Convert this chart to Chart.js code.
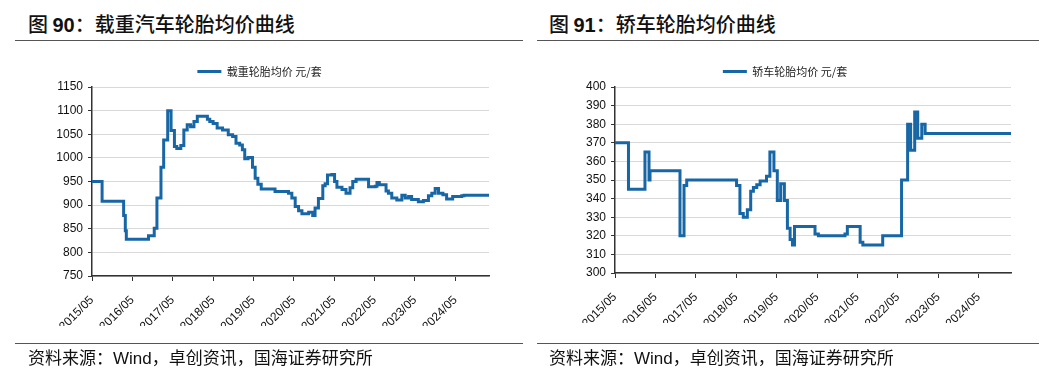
<!DOCTYPE html>
<html>
<head>
<meta charset="utf-8">
<script src="https://cdn.jsdelivr.net/npm/chart.js@4.4.1/dist/chart.umd.min.js"></script>
<style>
  html, body { margin: 0; padding: 0; background: #fff; }
  body { width: 1054px; height: 385px; position: relative; overflow: hidden; font-family: "Liberation Sans", Arial, "Noto Sans CJK SC", sans-serif; }
  .title { position: absolute; top: 10px; font-size: 20px; font-family: "Noto Sans CJK SC", sans-serif; font-weight: 500; color: #111; white-space: nowrap; line-height: 28px; }
  .title b { font-family: "Liberation Sans", Arial, sans-serif; font-weight: bold; }
  .hline { position: absolute; height: 0; border-top: 1.5px solid #555; }
  .source { position: absolute; top: 345px; font-size: 17px; font-family: "Noto Sans CJK SC", sans-serif; color: #111; white-space: nowrap; line-height: 24px; }
  .source span.w { font-family: "Liberation Sans", Arial, sans-serif; }
  canvas { position: absolute; }
</style>
</head>
<body>
<div class="title" style="left:28px;">图 <b>90</b>：载重汽车轮胎均价曲线</div>
<div class="hline" style="left:15px; width:508px; top:40px;"></div>
<div class="title" style="left:549px;">图 <b>91</b>：轿车轮胎均价曲线</div>
<div class="hline" style="left:537px; width:502px; top:40px;"></div>

<canvas id="c1" width="527" height="300" style="left:0px; top:62px;"></canvas>
<canvas id="c2" width="527" height="300" style="left:527px; top:62px;"></canvas>

<div class="hline" style="left:15px; width:508px; top:343px;"></div>
<div class="hline" style="left:537px; width:502px; top:343px;"></div>
<div class="source" style="left:28px;">资料来源：<span class="w">Wind</span>，卓创资讯，国海证券研究所</div>
<div class="source" style="left:549px;">资料来源：<span class="w">Wind</span>，卓创资讯，国海证券研究所</div>

<script>
// ---- data (x = months since 2015/05) ----
const tickLabels = ["2015/05","2016/05","2017/05","2018/05","2019/05","2020/05","2021/05","2022/05","2023/05","2024/05"];

const heavyLabel = "载重轮胎均价 元/套";
const heavyMonths = [0, 3.0, 9.4, 9.9, 10.2, 16.8, 18.5, 19.3, 20.5, 21.3,
  22.5, 23.5, 24.5, 25.2, 26.4, 27.3, 28.3, 29.3, 30.3, 31.3,
  34.3, 35.0, 36.0, 37.2, 38.8, 40.5, 41.8, 42.8, 43.9, 44.7,
  45.4, 46.4, 47.7, 48.5, 49.3, 50.3, 54.4, 58.4, 59.4, 60.4,
  61.4, 62.4, 64.4, 65.6, 66.3, 67.3, 68.6, 69.3, 70.0, 71.3,
  72.1, 72.8, 74.3, 75.5, 76.7, 77.5, 78.5, 82.2, 84.2, 84.7,
  85.4, 87.4, 88.1, 89.1, 90.6, 92.1, 93.1, 94.1, 95.0, 97.0,
  98.5, 100.0, 101.0, 102.0, 103.0, 104.3, 105.4, 107.2, 109.9, 110.6, 118];
const heavyPrices = [950, 908, 878, 846, 828, 835, 851, 915, 980, 1038,
  1100, 1058, 1024, 1020, 1026, 1059, 1070, 1066, 1077, 1088,
  1082, 1077, 1073, 1063, 1059, 1049, 1045, 1031, 1027, 1017,
  998, 1001, 980, 957, 944, 934, 929, 925, 915, 897,
  888, 882, 885, 878, 894, 914, 941, 945, 964, 965,
  950, 938, 933, 925, 937, 950, 955, 939, 940, 948,
  943, 930, 925, 915, 911, 921, 915, 918, 912, 907,
  910, 920, 925, 935, 925, 922, 913, 918, 920, 921, 921];

const carLabel = "轿车轮胎均价 元/套";
const carMonths = [0, 4.0, 8.9, 10.1, 10.4, 19.3, 20.5, 21.3, 36.1, 37.1,
  38.1, 39.3, 40.3, 41.1, 42.1, 43.1, 45.0, 46.0, 47.2, 48.2,
  49.2, 50.3, 51.2, 52.0, 52.7, 53.3, 59.4, 60.4, 68.3, 69.0,
  72.8, 73.6, 79.5, 85.1, 86.9, 87.8, 89.0, 89.9, 91.1, 92.1, 117.6];
const carPrices = [370, 345, 365, 350, 355, 320, 347, 350, 347, 332,
  330, 334, 344, 346, 347.5, 349.5, 352, 365, 355, 339,
  348, 339, 324, 318, 315, 325, 321, 320, 321, 325,
  316.5, 315, 320, 350, 380, 366, 386.5, 372.5, 380, 375, 375];

const blue = '#1766a6';

function makeChart(id, label, months, prices, yMin, yMax, yStep, xMax, padLeft, padRight, padBottom, yWidth) {
  const pts = months.map((m, i) => ({ x: m, y: prices[i] }));
  return new Chart(document.getElementById(id), {
    type: 'line',
    data: { datasets: [{
      label: label, data: pts, stepped: true,
      borderColor: blue, backgroundColor: blue, borderWidth: 3,
      pointRadius: 0, pointStyle: 'line', fill: false, tension: 0
    }]},
    options: {
      responsive: false, animation: false, devicePixelRatio: 1,
      layout: { padding: { left: padLeft, right: padRight, top: 0, bottom: padBottom } },
      plugins: {
        legend: { display: true, position: 'top', align: 'center',
          labels: { usePointStyle: true, pointStyle: 'line', pointStyleWidth: 24, boxHeight: 11, padding: 4, color: '#222',
            font: { family: '"Noto Sans CJK SC", sans-serif', size: 11 } } },
        tooltip: { enabled: false }
      },
      scales: {
        x: { type: 'linear', min: 0, max: xMax,
          border: { display: true, color: '#333', width: 1.5 },
          grid: { display: true, drawOnChartArea: false, drawTicks: true, tickLength: 5, color: '#333', tickColor: '#333' },
          ticks: { stepSize: 12, includeBounds: false, autoSkip: false, minRotation: 45, maxRotation: 45, padding: 12,
            color: '#111', font: { family: '"Liberation Sans", Arial, sans-serif', size: 12 },
            callback: (v) => (v % 12 === 0 && tickLabels[v / 12]) ? tickLabels[v / 12] : '' },
          afterFit: (s) => { s.height = 50; }
        },
        y: { min: yMin, max: yMax,
          border: { display: true, color: '#333', width: 1.5 },
          grid: { color: '#d9d9d9', lineWidth: 1, drawTicks: true, tickLength: 4, tickColor: '#333' },
          ticks: { stepSize: yStep, padding: 5, color: '#111', font: { family: '"Liberation Sans", Arial, sans-serif', size: 12 },
            callback: (v) => String(v) },
          afterFit: (s) => { s.width = yWidth; }
        }
      }
    }
  });
}

makeChart('c1', heavyLabel, heavyMonths, heavyPrices, 750, 1150, 50, 118, 30, 38, 36, 62);
makeChart('c2', carLabel, carMonths, carPrices, 300, 400, 10, 117.6, 32, 43, 39, 56);
</script>
</body>
</html>
